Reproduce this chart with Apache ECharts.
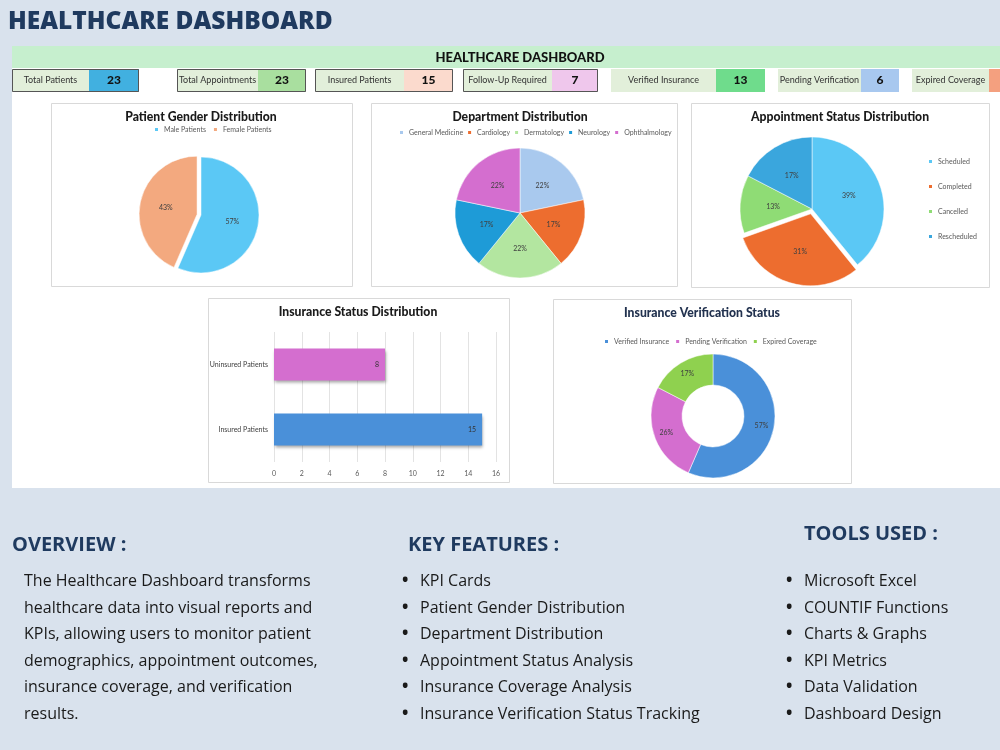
<!DOCTYPE html>
<html>
<head>
<meta charset="utf-8">
<title>Healthcare Dashboard</title>
<script src="https://cdn.jsdelivr.net/npm/echarts@6/dist/echarts.min.js"></script>
<style>
  html, body { margin: 0; padding: 0; background: #d9e2ed; }
  #main { width: 1000px; height: 750px; }
</style>
</head>
<body>
<div id="main"></div>
<script>
// ---- data ----
var kpiLabels = ['Total Patients', 'Total Appointments', 'Insured Patients', 'Follow-Up Required',
                 'Verified Insurance', 'Pending Verification', 'Expired Coverage'];
var kpiValues = [23, 23, 15, 7, 13, 6, 4];

var genderNames = ['Male Patients', 'Female Patients'];
var genderValues = [13, 10];

var deptNames = ['General Medicine', 'Cardiology', 'Dermatology', 'Neurology', 'Ophthalmology'];
var deptValues = [5, 4, 5, 4, 5];

var apptNames = ['Scheduled', 'Completed', 'Cancelled', 'Rescheduled'];
var apptValues = [9, 7, 3, 4];

var insNames = ['Insured Patients', 'Uninsured Patients'];
var insValues = [15, 8];

var verifNames = ['Verified Insurance', 'Pending Verification', 'Expired Coverage'];
var verifValues = [13, 6, 4];

var overviewLines = ['The Healthcare Dashboard transforms', 'healthcare data into visual reports and',
                     'KPIs, allowing users to monitor patient', 'demographics, appointment outcomes,',
                     'insurance coverage, and verification', 'results.'];
var featureList = ['KPI Cards', 'Patient Gender Distribution', 'Department Distribution',
                   'Appointment Status Analysis', 'Insurance Coverage Analysis',
                   'Insurance Verification Status Tracking'];
var toolList = ['Microsoft Excel', 'COUNTIF Functions', 'Charts & Graphs', 'KPI Metrics',
                'Data Validation', 'Dashboard Design'];

// ---- layout / styles ----
var FONT = '"Open Sans", Lato, sans-serif';
var XL = 'Lato, "Open Sans", sans-serif';   // the spreadsheet part
var NAVY = '#1f3a5f';
// [left, valueLeft, right, valueColour, bordered]
var kpiBoxes = [
  [12, 89, 139, '#41b0e0', true],
  [177, 258, 306, '#a9df9f', true],
  [315, 404, 453, '#fbdacd', true],
  [463, 552, 598, '#efc7ec', true],
  [611, 716, 765, '#6fdc8c', false],
  [778, 861, 899, '#a8c8ef', false],
  [912, 989, 1037, '#f4a07f', false]
];
var genderColors = ['#5bc8f5', '#f3a97f'];
var deptColors = ['#a9c9ee', '#ed6d2f', '#b3e6a0', '#1e9bd7', '#d46ecf'];
var apptColors = ['#5bc8f5', '#ed6d2f', '#8fdc75', '#3aa6dd'];
var insColors = ['#4a90d9', '#d46ecf'];
var verifColors = ['#4a90d9', '#d46ecf', '#8fd14f'];

function txt(text, x, y, size, weight, color, align, family) {
  return {
    type: 'text', silent: true,
    style: {
      text: text, x: x, y: y,
      font: (weight || 'normal') + ' ' + size + 'px ' + (family || FONT),
      fill: color || '#222',
      textAlign: align || 'left', align: align || 'left',
      textVerticalAlign: 'middle', verticalAlign: 'middle'
    }
  };
}
function rect(x, y, w, h, fill, stroke, lw) {
  return {
    type: 'rect', silent: true,
    shape: { x: x, y: y, width: w, height: h },
    style: { fill: fill, stroke: stroke || null, lineWidth: lw || 0 }
  };
}

var g = [];
// page title
g.push(txt('HEALTHCARE DASHBOARD', 8, 22, 24.5, '800', NAVY));
// white sheet + green band
g.push(rect(12, 46, 988, 442, '#ffffff'));
g.push(rect(12, 46, 988, 22, '#c6efce'));
g.push(txt('HEALTHCARE DASHBOARD', 520, 58, 13, '900', '#111', 'center', XL));

// KPI cards
kpiBoxes.forEach(function (b, i) {
  var y = 69, h = 23;
  g.push(rect(b[0], y, b[1] - b[0], h, '#e2efda'));
  g.push(rect(b[1], y, b[2] - b[1], h, b[3]));
  if (b[4]) g.push(rect(b[0] + 0.5, y + 0.5, b[2] - b[0] - 1, h - 1, null, '#555', 1));
  g.push(txt(kpiLabels[i], (b[0] + b[1]) / 2, y + h / 2, 9, 'normal', '#333', 'center', XL));
  g.push(txt(String(kpiValues[i]), (b[1] + b[2]) / 2, y + h / 2, 12, '900', '#111', 'center', XL));
});

// chart boxes and titles
var boxes = [
  [51, 103, 301, 183, 'Patient Gender Distribution', 201, 117, '#1a1a1a'],
  [371, 103, 306, 183, 'Department Distribution', 520, 117, '#1a1a1a'],
  [691, 103, 298, 184, 'Appointment Status Distribution', 840, 117, '#1a1a1a'],
  [208, 298, 301, 184, 'Insurance Status Distribution', 358, 312, '#1a1a1a'],
  [553, 299, 298, 184, 'Insurance Verification Status', 702, 313, '#22324f']
];
boxes.forEach(function (b) {
  g.push(rect(b[0] + 0.5, b[1] + 0.5, b[2], b[3], '#ffffff', '#d9d9d9', 1));
  g.push(txt(b[4], b[5], b[6], 12.2, '900', b[7], 'center', XL));
});

// bottom text
g.push(txt('OVERVIEW :', 12, 545, 20, 'bold', NAVY));
g.push(txt('KEY FEATURES :', 408, 545, 20, 'bold', NAVY));
g.push(txt('TOOLS USED :', 804, 534, 20, 'bold', NAVY));
var lineY = [581, 608, 634, 661, 687, 714];
overviewLines.forEach(function (s, i) { g.push(txt(s, 24, lineY[i], 16, 'normal', '#1a1a1a')); });
featureList.forEach(function (s, i) {
  g.push(txt('\u2022', 402, lineY[i], 17, 'bold', '#1a1a1a'));
  g.push(txt(s, 420, lineY[i], 16, 'normal', '#1a1a1a'));
});
toolList.forEach(function (s, i) {
  g.push(txt('\u2022', 786, lineY[i], 17, 'bold', '#1a1a1a'));
  g.push(txt(s, 804, lineY[i], 16, 'normal', '#1a1a1a'));
});

function pieData(names, values, colors, selectedName) {
  return names.map(function (n, i) {
    return { name: n, value: values[i], itemStyle: { color: colors[i] }, selected: n === selectedName };
  });
}
var pieLabel = { show: true, position: 'inside', formatter: '{d}%', fontSize: 7, color: '#404040', fontFamily: XL };
var legendText = { fontSize: 7, color: '#595959', fontFamily: XL };

function legend(names, left, top, orient, gap) {
  return {
    data: names, left: left, top: top, orient: orient || 'horizontal',
    itemWidth: 5, itemHeight: 5, itemGap: gap, icon: 'rect',
    textStyle: legendText, selectedMode: false, padding: 0
  };
}

var myChart = echarts.init(document.getElementById('main'));
var option = {
  backgroundColor: '#d9e2ed',
  animation: false,
  graphic: { elements: g },
  legend: [
    legend(genderNames, 153, 126, 'horizontal', 6),
    legend(deptNames, 398, 129, 'horizontal', 3),
    legend(apptNames, 927, 158, 'vertical', 18),
    legend(verifNames, 603, 338, 'horizontal', 5)
  ],
  grid: { left: 274, right: 504, top: 332, bottom: 288 },
  xAxis: {
    type: 'value', min: 0, max: 16, interval: 2,
    axisLine: { show: false }, axisTick: { show: false },
    axisLabel: { fontSize: 7, color: '#595959', margin: 8, fontFamily: XL },
    splitLine: { lineStyle: { color: '#e3e3e3' } }
  },
  yAxis: {
    type: 'category', data: insNames,
    axisLine: { show: false }, axisTick: { show: false },
    axisLabel: { fontSize: 7, color: '#404040', margin: 6, fontFamily: XL }
  },
  series: [
    {
      type: 'pie', center: [201, 215], radius: 58, selectedMode: 'single', selectedOffset: 4,
      percentPrecision: 0, label: pieLabel, labelLine: { show: false },
      itemStyle: { borderColor: '#fff', borderWidth: 0.5 },
      data: pieData(genderNames, genderValues, genderColors, 'Female Patients')
    },
    {
      type: 'pie', center: [520, 213], radius: 65,
      percentPrecision: 0, label: pieLabel, labelLine: { show: false },
      itemStyle: { borderColor: '#fff', borderWidth: 0.5 },
      data: pieData(deptNames, deptValues, deptColors)
    },
    {
      type: 'pie', center: [812, 209], radius: 72, selectedMode: 'single', selectedOffset: 5,
      percentPrecision: 0, label: pieLabel, labelLine: { show: false },
      itemStyle: { borderColor: '#fff', borderWidth: 0.5 },
      data: pieData(apptNames, apptValues, apptColors, 'Completed')
    },
    {
      type: 'pie', center: [713, 416], radius: [31, 62],
      percentPrecision: 0, label: pieLabel, labelLine: { show: false },
      itemStyle: { borderColor: '#fff', borderWidth: 0.5 },
      data: pieData(verifNames, verifValues, verifColors)
    },
    {
      type: 'bar', name: 'Insurance Status', barWidth: 32,
      label: { show: true, position: 'insideRight', fontSize: 7, color: '#333', fontFamily: XL, distance: 6 },
      data: insValues.map(function (v, i) {
        return {
          value: v,
          itemStyle: {
            color: insColors[i], shadowColor: 'rgba(0,0,0,0.35)', shadowBlur: 3,
            shadowOffsetX: 1, shadowOffsetY: 2
          }
        };
      })
    }
  ]
};
myChart.setOption(option);
</script>
</body>
</html>
